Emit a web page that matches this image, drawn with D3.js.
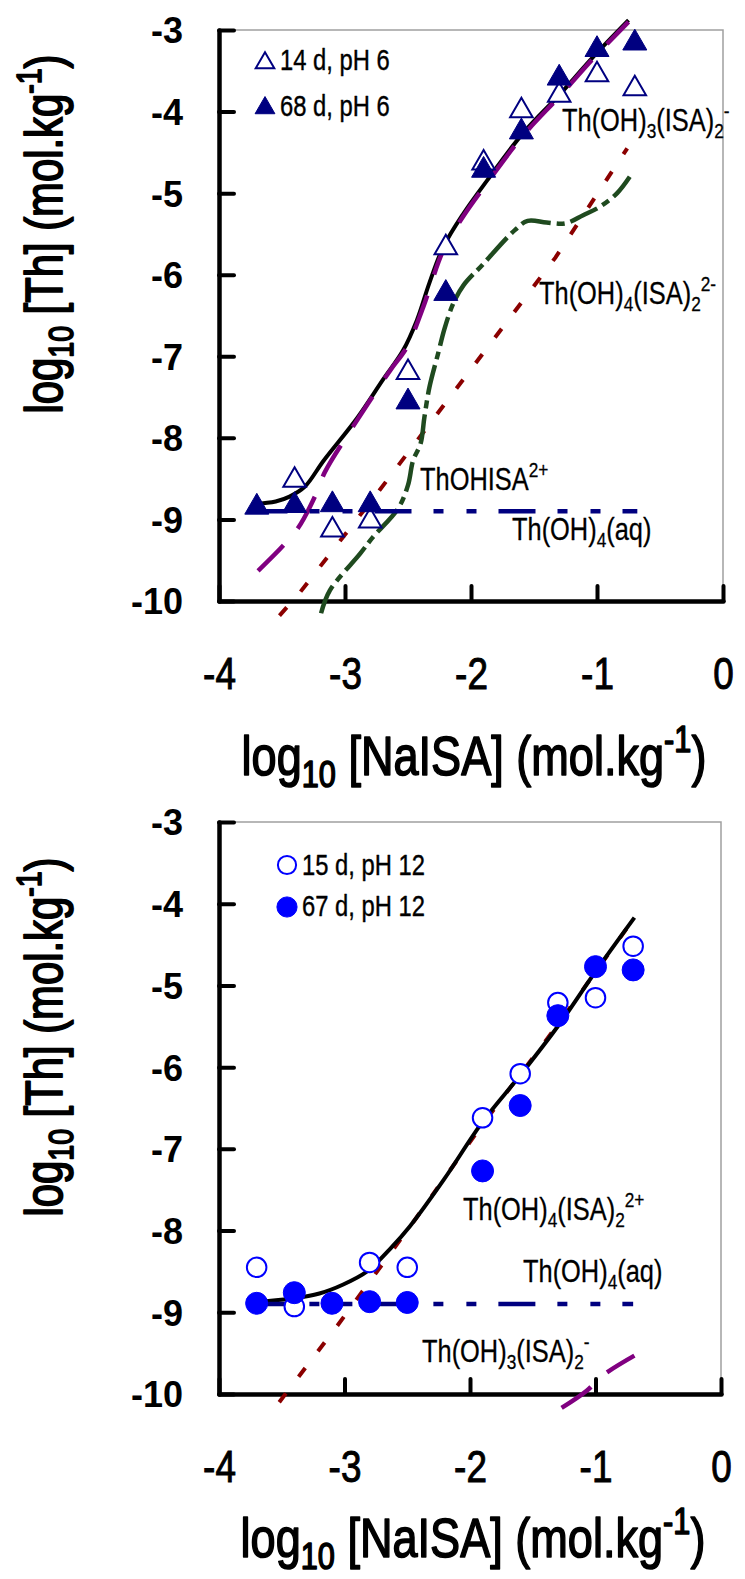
<!DOCTYPE html>
<html><head><meta charset="utf-8">
<script src="https://cdn.jsdelivr.net/npm/d3@7"></script>
<style>body{margin:0;background:#fff}</style>
</head><body>
<svg id="chart" width="745" height="1579"></svg>
<script>
// ---------- axis ticks ----------
const xTickValues = [-4, -3, -2, -1, 0];
const xTickLabels = ["-4", "-3", "-2", "-1", "0"];
const yTickValues = [-3, -4, -5, -6, -7, -8, -9, -10];
const yTickLabels = ["-3", "-4", "-5", "-6", "-7", "-8", "-9", "-10"];

// ---------- top panel (pH 6) data ----------
const topOpenX  = [-3.4, -3.1, -2.8, -2.5, -2.2, -1.9, -1.6, -1.3, -1.0, -0.7];
const topOpenY  = [-8.52, -9.13, -9.02, -7.2, -5.67, -4.63, -3.99, -3.80, -3.55, -3.72];
const topFillX  = [-3.7, -3.4, -3.1, -2.8, -2.5, -2.2, -1.9, -1.6, -1.3, -1.0, -0.7];
const topFillY  = [-8.85, -8.83, -8.82, -8.82, -7.56, -6.23, -4.72, -4.25, -3.59, -3.24, -3.16];

const topTotal = [[-3.72,-8.81],[-3.55,-8.78],[-3.44,-8.72],[-3.32,-8.6],[-3.17,-8.28],[-2.9,-7.75],[-2.7,-7.29],[-2.54,-6.93],[-2.43,-6.56],[-2.33,-6.1],[-2.22,-5.66],[-2.06,-5.25],[-1.87,-4.84],[-1.59,-4.27],[-1.29,-3.78],[-1.03,-3.33],[-0.75,-2.88]];
const topThOH3ISA2 = [[-3.69,-9.63],[-3.49,-9.32],[-3.37,-9.1],[-3.23,-8.69],[-3.16,-8.42],[-2.94,-7.87],[-2.64,-7.17],[-2.51,-6.89],[-2.38,-6.4],[-2.22,-5.7],[-2.06,-5.28],[-1.87,-4.87],[-1.59,-4.3],[-1.29,-3.8],[-1.03,-3.35],[-0.75,-2.9]];
const topThOHISA = [[-3.19,-10.15],[-3.12,-9.87],[-2.88,-9.42],[-2.78,-9.22],[-2.58,-8.87],[-2.5,-8.58],[-2.46,-8.28],[-2.4,-8.07],[-2.37,-7.75],[-2.33,-7.38],[-2.26,-6.96],[-2.21,-6.66],[-2.14,-6.35],[-2.06,-6.13],[-1.91,-5.88],[-1.65,-5.45],[-1.55,-5.34],[-1.40,-5.36],[-1.25,-5.37],[-1.11,-5.27],[-0.98,-5.17],[-0.84,-5.0],[-0.74,-4.8]];
const topThOH4ISA2 = [[-3.52,-10.18],[-3.36,-9.9],[-2.72,-8.63],[-1.33,-5.79],[-0.76,-4.45]];
const topThOH4aq = [[-3.75,-8.9],[-0.68,-8.9]];

// ---------- bottom panel (pH 12) data ----------
const botOpenX = [-3.7, -3.4, -2.8, -2.5, -1.9, -1.6, -1.3, -1.0, -0.7];
const botOpenY = [-8.45, -8.93, -8.39, -8.45, -6.62, -6.08, -5.21, -5.15, -4.52];
const botFillX = [-3.7, -3.4, -3.1, -2.8, -2.5, -1.9, -1.6, -1.3, -1.0, -0.7];
const botFillY = [-8.89, -8.76, -8.89, -8.87, -8.88, -7.27, -6.47, -5.37, -4.77, -4.81];

const botTotal = [[-3.7,-8.87],[-3.41,-8.83],[-3.2,-8.77],[-3.01,-8.66],[-2.82,-8.5],[-2.64,-8.23],[-2.48,-7.95],[-2.21,-7.38],[-1.9,-6.67],[-1.6,-6.1],[-1.3,-5.5],[-1.0,-4.83],[-0.69,-4.17]];
const botThOH4ISA2 = [[-3.52,-10.1],[-3.05,-9.15],[-2.44,-7.87],[-1.9,-6.7],[-1.3,-5.48],[-0.75,-4.3]];
const botThOH3ISA2 = [[-1.27,-10.17],[-1.07,-9.96],[-0.95,-9.78],[-0.69,-9.53]];
const botThOH4aq = [[-3.75,-8.9],[-0.7,-8.9]];

// ---------- text ----------
const legendTop = ["14 d, pH 6", "68 d, pH 6"];
const legendBot = ["15 d, pH 12", "67 d, pH 12"];

const FONT = "'Liberation Sans',Arial,sans-serif";
const SX = 0.82; // horizontal condensing, narrow look

const svg = d3.select("#chart");
svg.append("rect").attr("width",745).attr("height",1579).attr("fill","#fff");

function richText(g, x, y, parts, size, opts = {}) {
  let tf = `translate(${x},${y})`;
  if (opts.rotate) tf += ` rotate(${opts.rotate})`;
  tf += ` scale(${SX},1)`;
  const t = g.append("text").attr("x", 0).attr("y", 0).attr("transform", tf)
    .attr("font-family", FONT).attr("font-size", size).attr("fill", "#000");
  if (opts.anchor) t.attr("text-anchor", opts.anchor);
  if (opts.stroke) t.attr("stroke", "#000").attr("stroke-width", opts.stroke).attr("stroke-linejoin", "round");
  let cur = 0;
  parts.forEach(p => {
    const [s, kind] = p;
    let target = 0, fs = size;
    if (kind === "sub") { target = 0.22 * size; fs = 0.68 * size; }
    if (kind === "sup") { target = -0.42 * size; fs = 0.68 * size; }
    t.append("tspan").attr("dy", target - cur).attr("font-size", fs).text(s);
    cur = target;
  });
  return t;
}

function drawPanel(cfg) {
  const x = d3.scaleLinear().domain([-4, 0]).range([cfg.x0, cfg.x1]);
  const y = d3.scaleLinear().domain([-3, -10]).range([cfg.y0, cfg.y1]);
  const g = svg.append("g");

  // thin frame top/right
  g.append("path")
    .attr("d", `M${x(-4)},${y(-3)}H${x(0)}V${y(-10)}`)
    .attr("fill", "none").attr("stroke", "#a0a0a0").attr("stroke-width", 1.5);

  // axes
  const ax = g.append("g").attr("transform", `translate(0,${y(-10)})`)
    .call(d3.axisBottom(x).tickValues(xTickValues).tickSize(-15).tickSizeOuter(0).tickPadding(0)
      .tickFormat((d, i) => xTickLabels[i]));
  const ay = g.append("g").attr("transform", `translate(${x(-4)},0)`)
    .call(d3.axisLeft(y).tickValues(yTickValues).tickSize(-15).tickSizeOuter(0).tickPadding(36)
      .tickFormat((d, i) => yTickLabels[i]));
  [ax, ay].forEach(a => {
    a.select(".domain").attr("stroke", "#000").attr("stroke-width", 4.5).attr("stroke-linecap", "round");
    a.selectAll(".tick line").attr("stroke", "#000").attr("stroke-width", 4).attr("stroke-linecap", "round");
  });
  ax.selectAll(".tick text").attr("font-family", FONT).attr("font-size", 45).attr("fill", "#000")
    .attr("stroke", "#000").attr("stroke-width", 1)
    .attr("x", null).attr("y", null).attr("dy", null)
    .attr("transform", `translate(0,88) scale(${SX},1)`);
  ay.selectAll(".tick text").attr("font-family", FONT).attr("font-weight", "bold")
    .attr("font-size", 36).attr("fill", "#000").attr("dy", "0.36em");

  // titles
  richText(g, (x(-4) + x(0)) / 2 + 3, y(-10) + cfg.xtitleOff,
    [["log",""],["10","sub"],[" [NaISA] (mol.kg",""],["-1","sup"],[")",""]], 55,
    {anchor: "middle", stroke: 1.6});
  richText(g, 62, cfg.ytitle,
    [["log",""],["10","sub"],[" [Th] (mol.kg",""],["-1","sup"],[")",""]], 51,
    {anchor: "middle", rotate: -90, stroke: 1.8});

  const line = d3.line().x(d => x(d[0])).y(d => y(d[1])).curve(d3.curveCatmullRom.alpha(0.5));
  const straight = d3.line().x(d => x(d[0])).y(d => y(d[1]));

  cfg.lines.forEach(L => {
    g.append("path").attr("d", (L.straight ? straight : line)(L.data))
      .attr("fill", "none").attr("stroke", L.color).attr("stroke-width", L.width)
      .attr("stroke-dasharray", L.dash || null).attr("stroke-linecap", "butt");
  });

  // markers
  cfg.series.forEach(S => {
    g.append("g").selectAll("path").data(S.xs.map((v, i) => [v, S.ys[i]])).join("path")
      .attr("transform", d => `translate(${x(d[0])},${y(d[1])})`)
      .attr("d", d3.symbol(S.shape, S.size)())
      .attr("fill", S.fill).attr("stroke", S.stroke).attr("stroke-width", S.sw);
  });

  // legend
  cfg.legend.forEach((L, i) => {
    const S = cfg.series[i];
    g.append("path").attr("transform", `translate(${L.mx},${L.my})`)
      .attr("d", d3.symbol(S.shape, S.legSize)())
      .attr("fill", S.fill).attr("stroke", S.stroke).attr("stroke-width", S.sw);
    richText(g, L.tx, L.ty, [[L.text, ""]], 29, {stroke: 0.4});
  });

  cfg.labels.forEach(Lb => richText(g, Lb.x, Lb.y, Lb.parts, 31, {stroke: 0.3}));
}

const NAVY_DASH = "37,22,10,23,10,22";

drawPanel({
  x0: 219, x1: 723, y0: 30, y1: 601, ytitle: 234, xtitleOff: 174,
  lines: [
    {data: topThOH4ISA2, color: "#8b0000", width: 4, dash: "11,21", straight: true},
    {data: topThOHISA, color: "#1f4a1f", width: 4.5, dash: "30,6,8,6"},
    {data: topTotal, color: "#000", width: 4},
    {data: topThOH3ISA2, color: "#800080", width: 4.5, dash: "36,22"},
    {data: topThOH4aq, color: "#000080", width: 4.5, dash: NAVY_DASH, straight: true}
  ],
  series: [
    {xs: topOpenX, ys: topOpenY, shape: d3.symbolTriangle, size: 220, legSize: 150, fill: "#fff", stroke: "#000080", sw: 2},
    {xs: topFillX, ys: topFillY, shape: d3.symbolTriangle, size: 250, legSize: 170, fill: "#000080", stroke: "#000080", sw: 1}
  ],
  legend: [
    {mx: 265, my: 63, tx: 280, ty: 70, text: legendTop[0]},
    {mx: 265, my: 108, tx: 280, ty: 116, text: legendTop[1]}
  ],
  labels: [
    {x: 562, y: 131, parts: [["Th(OH)",""],["3","sub"],["(ISA)",""],["2","sub"],["-","sup"]]},
    {x: 539, y: 304, parts: [["Th(OH)",""],["4","sub"],["(ISA)",""],["2","sub"],["2-","sup"]]},
    {x: 420, y: 490, parts: [["ThOHISA",""],["2+","sup"]]},
    {x: 512, y: 540, parts: [["Th(OH)",""],["4","sub"],["(aq)",""]]}
  ]
});

drawPanel({
  x0: 219, x1: 721, y0: 822, y1: 1394, ytitle: 1037, xtitleOff: 163,
  lines: [
    {data: botThOH4ISA2, color: "#8b0000", width: 4, dash: "11,21", straight: true},
    {data: botTotal, color: "#000", width: 4},
    {data: botThOH3ISA2, color: "#800080", width: 4.5, dash: "36,22"},
    {data: botThOH4aq, color: "#000080", width: 4.5, dash: NAVY_DASH, straight: true}
  ],
  series: [
    {xs: botOpenX, ys: botOpenY, shape: d3.symbolCircle, size: 300, legSize: 260, fill: "#fff", stroke: "#0000ff", sw: 2},
    {xs: botFillX, ys: botFillY, shape: d3.symbolCircle, size: 380, legSize: 320, fill: "#0000ff", stroke: "#0000ff", sw: 1}
  ],
  legend: [
    {mx: 287, my: 865, tx: 302, ty: 875, text: legendBot[0]},
    {mx: 287, my: 907, tx: 302, ty: 916, text: legendBot[1]}
  ],
  labels: [
    {x: 463, y: 1220, parts: [["Th(OH)",""],["4","sub"],["(ISA)",""],["2","sub"],["2+","sup"]]},
    {x: 523, y: 1282, parts: [["Th(OH)",""],["4","sub"],["(aq)",""]]},
    {x: 422, y: 1362, parts: [["Th(OH)",""],["3","sub"],["(ISA)",""],["2","sub"],["-","sup"]]}
  ]
});
</script>
</body></html>
